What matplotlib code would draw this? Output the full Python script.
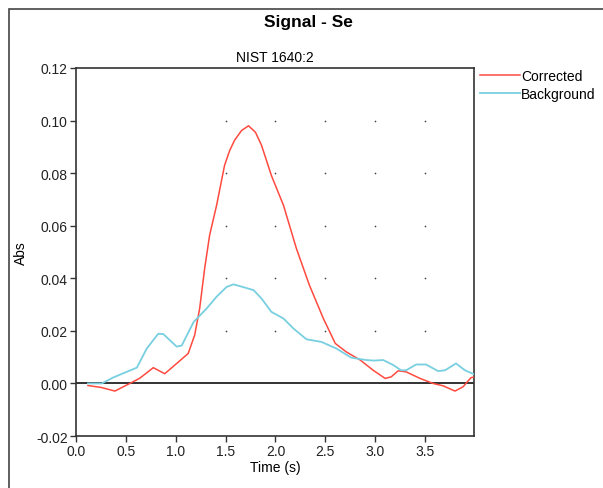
import numpy as np
import matplotlib
matplotlib.use('Agg')
import matplotlib.pyplot as plt
from matplotlib.patches import Rectangle

plt.rcParams['font.family'] = ['Liberation Sans', 'DejaVu Sans']

# corrected signal (red)
t_corr = [0.12, 0.25, 0.39, 0.54, 0.64, 0.775, 0.89, 1.01, 1.125, 1.19, 1.24, 1.29,
          1.34, 1.41, 1.49, 1.54, 1.59, 1.66, 1.73, 1.80, 1.86, 1.96, 2.08, 2.21, 2.34, 2.48, 2.6,
          2.71, 2.85, 2.98, 3.10, 3.16, 3.23, 3.31, 3.45, 3.58, 3.68, 3.80, 3.88, 3.96, 3.99]
corr = [-0.0008, -0.0015, -0.0029, 0.0, 0.002, 0.006, 0.0037, 0.0076, 0.0114, 0.0184, 0.0285, 0.0437,
        0.0564, 0.0678, 0.083, 0.0885, 0.0925, 0.0962, 0.098, 0.0955, 0.0906, 0.079, 0.0678, 0.0513,
        0.0374, 0.0247, 0.0152,
        0.012, 0.0089, 0.005, 0.0019, 0.0025, 0.0048, 0.0044, 0.0019, 0.0, -0.0009, -0.0029, -0.0013,
        0.0022, 0.0024]

# background signal (cyan)
t_bg = [0.12, 0.26, 0.37, 0.47, 0.61, 0.71, 0.825, 0.875, 1.01, 1.06, 1.18, 1.31, 1.41,
        1.51, 1.58, 1.78, 1.86, 1.96, 2.08, 2.18, 2.31, 2.46, 2.61, 2.76, 2.91, 2.99,
        3.08, 3.18, 3.26, 3.31, 3.41, 3.51, 3.63, 3.70, 3.81, 3.90, 3.99]
bg = [0.0, 0.0, 0.0022, 0.0038, 0.006, 0.0133, 0.0189, 0.0188, 0.014, 0.0144, 0.0234, 0.0285, 0.033,
      0.0367, 0.0377, 0.0355, 0.0323, 0.0272, 0.0247, 0.0209, 0.0168, 0.0158, 0.0133, 0.0098, 0.0089,
      0.0087, 0.0089, 0.007, 0.005, 0.005, 0.0072, 0.0072, 0.0047, 0.005, 0.0076, 0.005, 0.0035]

xticks = [0.0, 0.5, 1.0, 1.5, 2.0, 2.5, 3.0, 3.5]
yticks = [-0.02, 0.0, 0.02, 0.04, 0.06, 0.08, 0.10, 0.12]
dot_x = [1.5, 2.0, 2.5, 3.0, 3.5]
dot_y = [0.02, 0.04, 0.06, 0.08, 0.10]

fig = plt.figure(figsize=(6.03, 4.89), dpi=100)
ax = fig.add_axes([0.126, 0.1063, 0.66, 0.7527])

# outer frame
fig.patches.append(Rectangle((9 / 603, -0.1), 1.2, 1 - 10 / 489 + 0.1, transform=fig.transFigure,
                             fill=False, edgecolor='#444444', linewidth=1.2))

gx, gy = np.meshgrid(dot_x, dot_y)
ax.scatter(gx.ravel(), gy.ravel(), s=1.5, color='#444444', zorder=1, linewidths=0)
ax.axhline(0, color='#222222', linewidth=1.3, zorder=2)

ax.plot(t_corr, corr, color='#ff4a3f', linewidth=1.1, label='Corrected', zorder=3)
ax.plot(t_bg, bg, color='#78cfe0', linewidth=1.3, label='Background', zorder=3)

ax.set_xlim(0, 3.99)
ax.set_ylim(-0.02, 0.12)
ax.set_xticks(xticks)
ax.set_xticklabels(['%.1f' % v for v in xticks])
ax.set_yticks(yticks)
ax.set_yticklabels(['%.2f' % v for v in yticks])
ax.tick_params(direction='out', length=4, width=1, labelsize=10, color='#333333',
               labelcolor='#222222', pad=2)
for s in ax.spines.values():
    s.set_color('#333333')
    s.set_linewidth(1.2)

ax.set_xlabel('Time (s)', fontsize=10, labelpad=1)
ax.set_ylabel('Abs', fontsize=10, labelpad=6)
ax.set_title('NIST 1640:2', fontsize=10, pad=5)
fig.text(0.511, 0.953, 'Signal - Se', ha='center', va='center', fontsize=12.5, fontweight='bold')

fig.legend(loc='upper left', bbox_to_anchor=(480 / 603, 1 - 70 / 489), bbox_transform=fig.transFigure,
           frameon=False, fontsize=10, handlelength=2.85, handletextpad=0.1, labelspacing=0.3,
           borderpad=0, borderaxespad=0)

fig.savefig('out.png', dpi=100)
